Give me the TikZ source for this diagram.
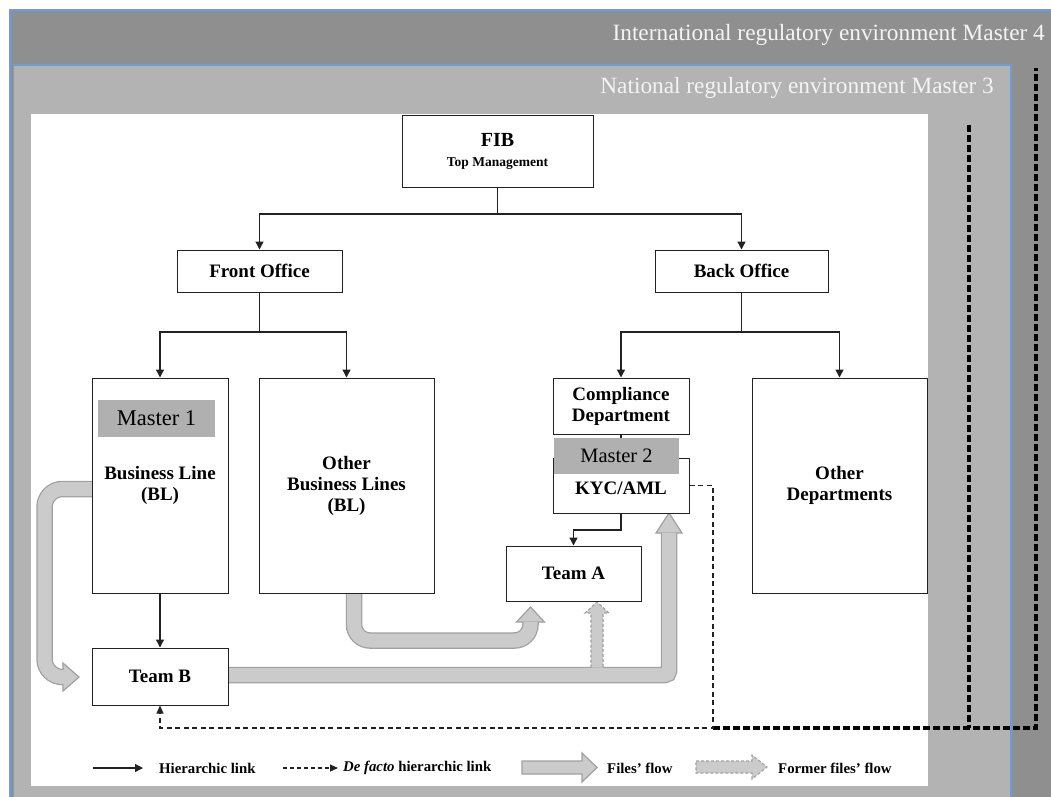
\documentclass[tikz,border=0pt]{standalone}
\usepackage{fontspec}
\setmainfont{Liberation Serif}
\usetikzlibrary{arrows.meta}
\definecolor{mfour}{HTML}{8F8F8F}
\definecolor{mthree}{HTML}{B3B3B3}
\definecolor{mbox}{HTML}{B0B0B0}
\definecolor{fatfill}{HTML}{CBCBCB}
\definecolor{fatedge}{HTML}{A0A0A0}
\definecolor{blueline}{HTML}{6A9ED6}
\definecolor{linecol}{HTML}{222222}
\definecolor{headtext}{HTML}{F4F4F4}
\begin{document}
\begin{tikzpicture}[x=1pt,y=-1pt,
  box/.style={draw=linecol, line width=1pt, fill=white, inner sep=0pt, align=center,
    font=\fontsize{19}{21}\selectfont\bfseries},
  masterbox/.style={fill=mbox, inner sep=0pt, font=\fontsize{22.5}{24}\selectfont},
  hier/.style={draw=linecol, line width=1.3pt, -{Triangle[length=8pt,width=8pt]}},
  plainline/.style={draw=linecol, line width=1.3pt},
  defacto/.style={draw=linecol, line width=1.1pt, dash pattern=on 5pt off 3.5pt, -{Triangle[length=8pt,width=7pt]}},
  thickdash/.style={draw=black, line width=3.2pt, dash pattern=on 7pt off 3pt},
  fatouter/.style={draw=fatedge, line width=16.5pt},
  fatinner/.style={draw=fatfill, line width=14pt},
  fathead/.style={fill=fatfill, draw=fatedge, line width=1.2pt, line join=miter},
  formerhead/.style={fill=fatfill, draw=fatedge, line width=1.1pt, dash pattern=on 3pt off 2pt},
  legtext/.style={anchor=west, inner sep=0pt, font=\fontsize{14.8}{16}\selectfont\bfseries},
  headlabel/.style={anchor=east, inner sep=0pt, text=headtext, font=\fontsize{23.3}{25}\selectfont}
]
\useasboundingbox (0,0) rectangle (1051,796);
\fill[white] (0,0) rectangle (1051,796);
% environments
\filldraw[fill=mfour, draw=blueline, line width=1.2pt] (10,10) rectangle (1053,798);
\filldraw[fill=mthree, draw=blueline, line width=1.2pt] (13.5,65) rectangle (1011,798);
\fill[white] (31,114) rectangle (928,786);
\node[headlabel] (m4) at (1045,35) {International regulatory environment Master 4};
\node[headlabel] (m3) at (994,88) {National regulatory environment Master 3};

% fat arrows (under the boxes)
% BL -> Team B
\draw[fatouter, rounded corners=18pt] (92,489) -- (44.5,489) -- (44.5,677) -- (64,677);
\filldraw[fathead] (63,663) -- (79,677) -- (63,691) -- cycle;
\draw[fatinner, rounded corners=18pt] (93,489) -- (44.5,489) -- (44.5,677) -- (64.5,677);
% Other BL -> Team A
\draw[fatouter, rounded corners=16pt] (354,593) -- (354,640.5) -- (530.5,640.5) -- (530.5,622);
\filldraw[fathead] (516.5,622) -- (530.5,607) -- (544.5,622) -- cycle;
\draw[fatinner, rounded corners=16pt] (354,592) -- (354,640.5) -- (530.5,640.5) -- (530.5,621.5);
% Team B -> KYC
\draw[fatouter, rounded corners=4pt] (228,675) -- (669,675) -- (669,533);
\filldraw[fathead] (656,533) -- (669,513) -- (682,533) -- cycle;
\draw[fatinner, rounded corners=4pt] (227,675) -- (669,675) -- (669,532.5);
% former flow -> Team A
\filldraw[formerhead] (591,667.5) -- (591,613) -- (585,613) -- (597,602) -- (609,613) -- (603,613) -- (603,667.5);

% boxes
\node[box, minimum width=191pt, minimum height=72pt] (fib) at (497.5,151)
  {\fontsize{20}{22}\selectfont FIB\\[-1pt]\fontsize{13.5}{15}\selectfont Top Management};
\node[box, minimum width=165pt, minimum height=42pt] (fo) at (259.5,271) {Front Office};
\node[box, minimum width=173pt, minimum height=42pt] (bo) at (741.5,271) {Back Office};
\node[box, minimum width=136pt, minimum height=215pt] (bl) at (160,485.5) {Business Line\\(BL)};
\node[masterbox, minimum width=117pt, minimum height=37pt] (m1) at (156.5,418.5) {Master 1};
\node[box, minimum width=175pt, minimum height=215pt] (obl) at (346.5,485.5) {Other\\Business Lines\\(BL)};
\node[box, minimum width=136pt, minimum height=56pt] (comp) at (621,406) {Compliance\\Department};
\node[box, minimum width=136pt, minimum height=55pt, text depth=0pt] (kyc) at (621,485.5) {\raisebox{-6pt}{KYC/AML}};
\draw[plainline] (comp.south) -- (kyc.north);
\node[masterbox, minimum width=125pt, minimum height=36pt, font=\fontsize{20.5}{22}\selectfont] (m2) at (616.5,456) {Master 2};
\node[box, minimum width=175pt, minimum height=215pt] (od) at (839.5,485.5) {Other\\Departments};
\node[box, minimum width=135pt, minimum height=55pt] (teama) at (573.5,573.5) {Team A};
\node[box, minimum width=136pt, minimum height=57pt] (teamb) at (160,676.5) {Team B};

% hierarchic links
\coordinate (r1) at (0,214);
\coordinate (r2) at (0,332);
\draw[plainline] (fib.south) -- (fib.south |- r1);
\draw[hier] (fib.south |- r1) -| (fo.north);
\draw[hier] (fib.south |- r1) -| (bo.north);
\draw[plainline] (fo.south) -- (fo.south |- r2);
\draw[hier] (fo.south |- r2) -| (bl.north);
\draw[hier] (fo.south |- r2) -| (obl.north);
\draw[plainline] (bo.south) -- (bo.south |- r2);
\draw[hier] (bo.south |- r2) -| (comp.north);
\draw[hier] (bo.south |- r2) -| (od.north);
\draw[hier] (kyc.south) -- ++(0,16.5) -| (teama.north);
\draw[hier] (bl.south) -- (teamb.north);

% de facto links
\coordinate (d1) at (713,728);
\coordinate (d2) at (1036,68);
\coordinate (d3) at (969,125);
\draw[thickdash] (d1) -| (d2);
\draw[thickdash] (d3) -- (d3 |- d1);
\draw[defacto] (kyc.east) -| (d1) -| (teamb.south);

% legend
\coordinate (l1a) at (93,768);  \coordinate (l1b) at (143,768);
\draw[hier] (l1a) -- (l1b);
\node[legtext] (t1) at (159,768) {Hierarchic link};
\coordinate (l2a) at (283,768); \coordinate (l2b) at (338,768);
\draw[defacto, dash pattern=on 4pt off 3pt] (l2a) -- (l2b);
\node[legtext] (t2) at (343,768) {\textit{De facto} hierarchic link};
\filldraw[fathead] (522,761) -- (582,761) -- (582,753) -- (597,767.5) -- (582,782) -- (582,774) -- (522,774) -- cycle;
\node[legtext] (t3) at (607,768) {Files’ flow};
\filldraw[formerhead] (696,761) -- (752,761) -- (752,755) -- (767,767) -- (752,779) -- (752,773) -- (696,773) -- cycle;
\node[legtext] (t4) at (778,768) {Former files’ flow};
\end{tikzpicture}
\end{document}
